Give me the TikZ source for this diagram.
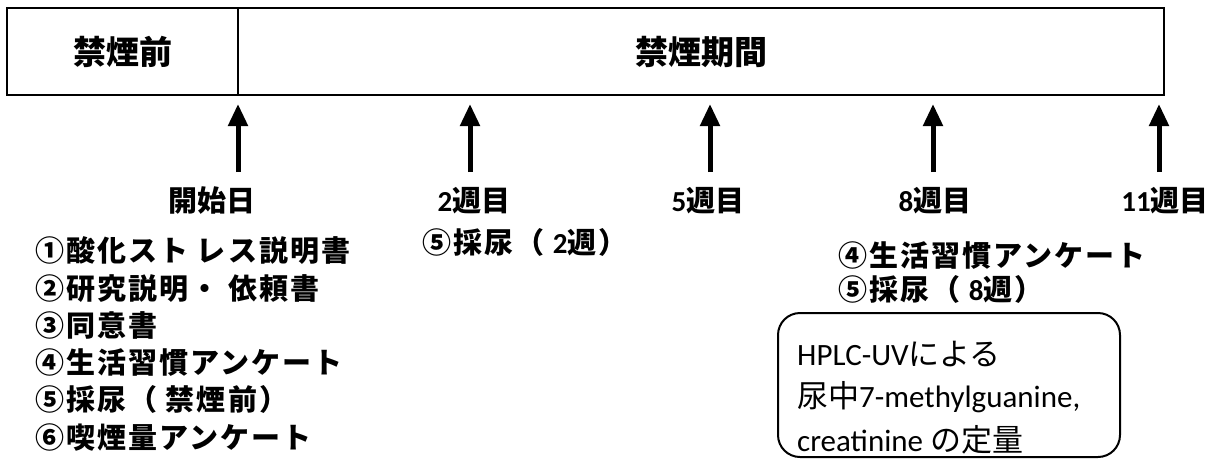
\documentclass[tikz,border=0pt]{standalone}
\usepackage{fontspec}
\setmainfont{Carlito}
\newfontfamily\jp{Noto Sans CJK JP}
\newfontfamily\jpw[LetterSpace=7]{Noto Sans CJK JP}
\usetikzlibrary{arrows.meta}
\tikzset{
  hdr/.style={draw, line width=2.2pt, inner sep=0pt, minimum height=87pt, font=\jp\bfseries\fontsize{33}{40}\selectfont},
  arr/.style={line width=5pt, -{Triangle[width=19pt,length=22pt]}},
  wk/.style={inner sep=0pt, font=\bfseries\fontsize{29}{34}\selectfont},
  item/.style={anchor=west, inner sep=0pt, font=\jpw\bfseries\fontsize{29}{34}\selectfont},
  boxtxt/.style={anchor=west, inner sep=0pt, font=\fontsize{31}{36}\selectfont},
}
\begin{document}
\begin{tikzpicture}[x=1pt,y=-1pt]
\useasboundingbox (0,0) rectangle (1215,464);
% header boxes
\node[hdr, minimum width=231pt] (pre) at (122.5,51.5) {禁煙前};
\node[hdr, minimum width=926pt] (per) at (701,51.5) {禁煙期間};
% arrows
\foreach \i/\x in {1/238,2/470,3/710,4/933,5/1159}{
  \coordinate (t\i) at (\x,172);
  \coordinate (h\i) at (\x,104);
}
\draw[arr] (t1) -- (h1);
\draw[arr] (t2) -- (h2);
\draw[arr] (t3) -- (h3);
\draw[arr] (t4) -- (h4);
\draw[arr] (t5) -- (h5);
% week labels
\node[wk] (w0) at (212,201) {{\jp 開始日}};
\node[wk] (w2) at (474,201) {2{\jp 週目}};
\node[wk] (w5) at (708,201) {5{\jp 週目}};
\node[wk] (w8) at (935,201) {8{\jp 週目}};
\node[wk] (w11) at (1165,201) {11{\jp 週目}};
% left list
\node[item] (i1) at (35,251) {①酸化スト レス説明書};
\node[item] (i2) at (35,288.2) {②研究説明・ 依頼書};
\node[item] (i3) at (35,325.4) {③同意書};
\node[item] (i4) at (35,362.6) {④生活習慣アンケート};
\node[item] (i5) at (35,399.8) {⑤採尿（ 禁煙前）};
\node[item] (i6) at (35,437) {⑥喫煙量アンケート};
% week 2
\node[item] (j1) at (422,242) {⑤採尿（ {\normalfont\bfseries 2}週）};
% week 8
\node[item] (k1) at (838,256) {④生活習慣アンケート};
\node[item] (k2) at (838,289) {⑤採尿（ {\normalfont\bfseries 8}週）};
% rounded box
\draw[line width=2pt, rounded corners=22pt] (778,313) rectangle (1120,457);
\node[boxtxt] (b1) at (797,354) {HPLC-UV{\jp による}};
\node[boxtxt] (b2) at (797,397) {{\jp 尿中}7-methylguanine,};
\node[boxtxt] (b3) at (797,440) {creatinine {\jp の定量}};
\end{tikzpicture}
\end{document}
